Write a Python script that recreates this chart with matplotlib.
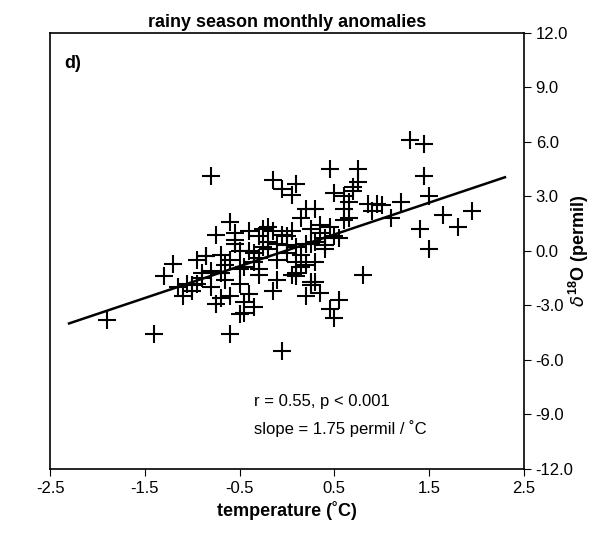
import matplotlib.pyplot as plt
import numpy as np

plt.rcParams['font.family'] = ['Liberation Sans', 'DejaVu Sans']
plt.rcParams['mathtext.fontset'] = 'custom'
plt.rcParams['mathtext.rm'] = 'Liberation Sans'
plt.rcParams['mathtext.bf'] = 'Liberation Sans:bold'

# temperature anomaly (C) and d18O anomaly (permil)
temp = [-1.9, -1.4, -0.6, -0.05, 1.3, 1.45, 1.45, 0.45, 0.75, -0.8, -0.15, 0.1, -0.05,
        0.05, 1.5, 1.65, 1.8, 1.95, 1.4, 1.5, 0.8, 0.5, 0.55, 0.2, -1.2, -1.1, -1.3,
        -1.0, -0.95, -0.9, -0.85, -0.7, -0.65, -0.6, -0.55, -0.5, -0.45, -0.4, -0.35,
        -0.3, -0.25, -0.2, -0.1, 0.0, 0.15, 0.25, 0.3, 0.35, 0.4, 0.6, 0.65, 0.7, 0.85,
        0.95, 1.1, 1.2, -1.05, -0.95, -0.8, -0.75, -0.7, -0.6, -0.55, -0.5, -0.4, -0.35,
        -0.3, -0.2, -0.15, -0.05, 0.05, 0.1, 0.2, 0.25, 0.3, 0.35, 0.45, 0.5, -1.15,
        -0.85, -0.75, -0.65, -0.45, -0.3, -0.25, -0.1, 0.0, 0.1, 0.15, 0.2, 0.3, 0.4,
        0.55, 0.6, 0.7, 0.75, -0.9, -0.7, -0.5, -0.4, -0.2, -0.1, 0.05, 0.15, 0.25,
        0.35, 0.4, 0.5, -1.0, -0.6, -0.45, -0.3, -0.15, 0.0, 0.1, 0.2, 0.3, 0.6, 0.9,
        1.0, -0.5, -0.35, 0.1, 0.25, -0.8, -0.55, 0.45, 0.65]
d18o = [-3.8, -4.6, -4.6, -5.5, 6.1, 5.9, 4.1, 4.5, 4.5, 4.1, 3.9, 3.7, 3.4,
        3.1, 3.0, 2.0, 1.3, 2.2, 1.2, 0.1, -1.3, -3.7, -2.7, -2.5, -0.7, -2.5, -1.4,
        -1.9, -1.8, -1.5, -0.3, -0.2, -1.6, 1.6, 0.6, -1.0, -0.9, 1.1, -0.6,
        0.8, 0.2, 0.1, -0.5, 0.3, 1.8, 0.4, 2.3, 1.0, 0.3, 3.0, 2.7, 3.3, 2.6,
        2.6, 1.8, 2.7, -1.8, -0.5, -2.0, -2.9, -1.2, -2.5, 1.0, 0.0, -2.4, -3.1,
        -1.3, 1.3, 1.1, 0.9, 1.1, 0.2, -0.8, -1.7, 0.5, 1.4, 1.3, 3.2, -2.0,
        -0.3, 0.9, -0.8, -3.4, -0.4, 1.2, 0.4, -0.1, -1.4, -0.9, 2.3, -0.6, 0.7,
        0.7, 2.3, 3.5, 3.8, -1.2, -2.6, -1.8, 0.0, 0.5, -1.6, -1.3, -0.2, -1.9,
        -2.3, 0.1, 0.8, -2.2, -0.5, -2.8, -1.0, -2.2, 0.8, -1.2, 0.4, -1.7, 1.7, 2.2,
        2.5, -3.5, -0.1, -0.6, 1.2, -1.1, 0.4, -3.2, 1.8]

fig = plt.figure(figsize=(5.96, 5.49), dpi=100)
ax = fig.add_axes([0.084, 0.146, 0.795, 0.794])
ax.scatter(temp, d18o, marker='+', s=150, color='black', linewidths=1.5)

# regression line
slope = 1.75
icpt = 0.03
xl = np.array([-2.3, 2.3])
ax.plot(xl, slope * xl + icpt, color='black', lw=1.8)

ax.set_xlim(-2.5, 2.5)
ax.set_ylim(-12, 12)
ax.set_xticks(np.arange(-2.5, 2.6, 1.0))
ax.set_xticklabels(['-2.5', '-1.5', '-0.5', '0.5', '1.5', '2.5'])
ax.set_yticks(np.arange(-12, 12.1, 3))
ax.set_yticklabels([f'{v:.1f}' for v in np.arange(-12, 12.1, 3)])
ax.yaxis.tick_right()
ax.yaxis.set_label_position('right')
ax.tick_params(labelsize=12, direction='out', length=5)
for s in ax.spines.values():
    s.set_linewidth(1.2)

ax.set_xlabel('temperature (˚C)', fontsize=13, fontweight='bold')
ax.set_ylabel(r'$\delta^{\mathbf{18}}$O (permil)', fontsize=13, fontweight='bold',
              rotation=90)
ax.yaxis.set_label_coords(1.09, 0.5)
ax.set_title('rainy season monthly anomalies', fontsize=13, fontweight='bold', pad=4)
ax.text(0.03, 0.95, 'd)', transform=ax.transAxes, fontsize=13, fontweight='bold', va='top')
ax.text(0.43, 0.145, 'r = 0.55, p < 0.001', transform=ax.transAxes, fontsize=12)
ax.text(0.43, 0.08, 'slope = 1.75 permil / ˚C', transform=ax.transAxes, fontsize=12)

fig.savefig('out.png', dpi=100)
